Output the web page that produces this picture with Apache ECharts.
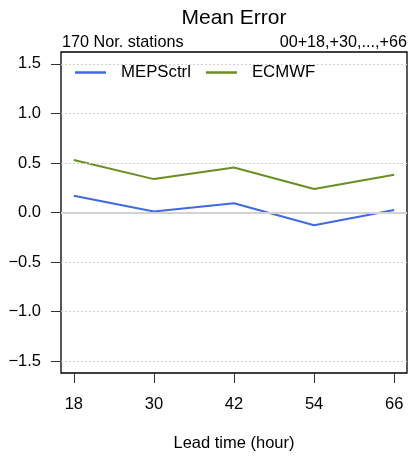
<!DOCTYPE html>
<html>
<head>
<meta charset="utf-8">
<script src="https://cdn.jsdelivr.net/npm/echarts@6/dist/echarts.min.js"></script>
<style>
html,body{margin:0;padding:0;background:#fff;}
#chart{width:410px;height:459px;}
</style>
</head>
<body>
<div id="chart"></div>
<script>
var leadTimes = [18, 30, 42, 54, 66];
var mepsCtrl = [0.17, 0.01, 0.093, -0.128, 0.026];
var ecmwf = [0.53, 0.337, 0.455, 0.237, 0.38];
var yTicks = [-1.5, -1.0, -0.5, 0.0, 0.5, 1.0, 1.5];
var xTicks = [18, 30, 42, 54, 66];
var seriesNames = ['MEPSctrl', 'ECMWF'];
var titleText = 'Mean Error';
var subLeft = '170 Nor. stations';
var subRight = '00+18,+30,...,+66';
var xName = 'Lead time (hour)';

var FONT = '"Liberation Sans", Arial, Helvetica, sans-serif';
var chart = echarts.init(document.getElementById('chart'), null, {renderer: 'canvas'});

function pairs(xs, ys) { return xs.map(function (x, i) { return [x, ys[i]]; }); }

var gridLines = yTicks.filter(function (v) { return v !== 0; }).map(function (v) {
  return {yAxis: v, lineStyle: {color: '#cfcfcf', type: [2, 2], width: 1}};
});
gridLines.push({yAxis: 0, lineStyle: {color: '#d3d3d3', type: 'solid', width: 2}});

var option = {
  backgroundColor: '#fff',
  animation: false,
  textStyle: {fontFamily: FONT},
  graphic: [
    {type: 'text', x: 234, y: 18, style: {text: titleText, font: '21px ' + FONT, fill: '#000', textAlign: 'center', textVerticalAlign: 'middle'}},
    {type: 'text', x: 62, y: 43, style: {text: subLeft, font: '16.2px ' + FONT, fill: '#000', textAlign: 'left', textVerticalAlign: 'middle'}},
    {type: 'text', x: 407, y: 43, style: {text: subRight, font: '16.2px ' + FONT, fill: '#000', textAlign: 'right', textVerticalAlign: 'middle'}}
  ],
  legend: {
    left: 70,
    top: 59,
    icon: 'rect',
    itemWidth: 31,
    itemHeight: 2.5,
    itemGap: 15,
    data: seriesNames,
    textStyle: {fontFamily: FONT, fontSize: 16.8, color: '#000', padding: [0, 0, 0, 10]}
  },
  grid: {left: 61, right: 3, top: 52, bottom: 86, show: true, borderColor: '#000', borderWidth: 1.3, backgroundColor: 'transparent'},
  xAxis: {
    type: 'value', min: 16.08, max: 67.92,
    name: xName, nameLocation: 'middle', nameGap: 62,
    nameTextStyle: {fontFamily: FONT, fontSize: 16.5, color: '#000'},
    axisLine: {show: false, onZero: false},
    splitLine: {show: false},
    axisTick: {show: true, customValues: xTicks, length: 10, lineStyle: {color: '#333', width: 1}},
    axisLabel: {customValues: xTicks, margin: 23, fontFamily: FONT, fontSize: 16.5, color: '#000'}
  },
  yAxis: {
    type: 'value', min: -1.62, max: 1.62,
    axisLine: {show: false, onZero: false},
    splitLine: {show: false},
    axisTick: {show: true, customValues: yTicks, length: 10, lineStyle: {color: '#333', width: 1}},
    axisLabel: {customValues: yTicks, margin: 20, fontFamily: FONT, fontSize: 16.5, color: '#000',
      formatter: function (v) { return v.toFixed(1).replace('-', '\u2212'); }}
  },
  series: [
    {
      name: 'grid', type: 'line', data: [], silent: true,
      markLine: {symbol: 'none', silent: true, label: {show: false}, data: gridLines, animation: false}
    },
    {name: seriesNames[0], type: 'line', data: pairs(leadTimes, mepsCtrl), showSymbol: false, symbol: 'none',
      lineStyle: {color: '#4169E1', width: 2}, itemStyle: {color: '#4169E1'}, z: 3},
    {name: seriesNames[1], type: 'line', data: pairs(leadTimes, ecmwf), showSymbol: false, symbol: 'none',
      lineStyle: {color: '#6B8E23', width: 2}, itemStyle: {color: '#6B8E23'}, z: 3}
  ]
};
chart.setOption(option);
</script>
</body>
</html>
